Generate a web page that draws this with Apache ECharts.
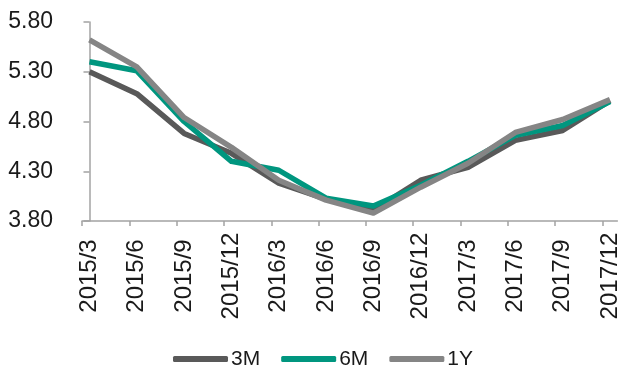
<!DOCTYPE html>
<html>
<head>
<meta charset="utf-8">
<title>3M / 6M / 1Y</title>
<script src="https://cdn.jsdelivr.net/npm/echarts@6/dist/echarts.min.js"></script>
<style>
  html, body { margin: 0; padding: 0; background: #ffffff; }
  #chart { width: 622px; height: 372px; }
</style>
</head>
<body>
<div id="chart"></div>
<script>
// Quarter-end categories
const categories = ['2015/3', '2015/6', '2015/9', '2015/12', '2016/3', '2016/6',
                    '2016/9', '2016/12', '2017/3', '2017/6', '2017/9', '2017/12'];

// Rates by tenor (%)
const series3M = [5.30, 5.08, 4.68, 4.48, 4.18, 4.02, 3.91, 4.21, 4.34, 4.61, 4.71, 5.01];
const series6M = [5.40, 5.31, 4.80, 4.40, 4.31, 4.03, 3.95, 4.16, 4.40, 4.66, 4.76, 5.00];
const series1Y = [5.62, 5.35, 4.84, 4.54, 4.21, 4.01, 3.88, 4.14, 4.38, 4.69, 4.82, 5.02];

// Value-axis tick labels
const yTicks = { min: 3.80, max: 5.80, step: 0.50 };

const seriesNames = ['3M', '6M', '1Y'];
const seriesValues = [series3M, series6M, series1Y];
const seriesColors = ['#595959', '#00967f', '#858585'];

// Category ticks sit a little left of each data point (Office-style axis)
const TICK_SHIFT = -0.158;
const X_MIN = TICK_SHIFT;
const X_MAX = TICK_SHIFT + 11.314;

const axisGray = '#a3a3a3';
const textColor = '#1a1a1a';
const fontFamily = '"Liberation Sans", Arial, sans-serif';

const chart = echarts.init(document.getElementById('chart'), null, { renderer: 'canvas' });

chart.setOption({
  animation: false,
  backgroundColor: '#ffffff',
  grid: { left: 82, right: 2, top: 22, bottom: 151, containLabel: false },
  legend: {
    data: seriesNames,
    left: 168,
    top: 342,
    icon: 'roundRect',
    itemWidth: 55,
    itemHeight: 6,
    itemGap: 21,
    textStyle: { fontSize: 21, color: textColor, fontFamily: fontFamily, lineHeight: 24, padding: [0, 0, 0, -2] }
  },
  xAxis: {
    type: 'value',
    min: X_MIN,
    max: X_MAX,
    splitLine: { show: false },
    axisLine: { show: true, lineStyle: { color: axisGray, width: 1.5 } },
    axisTick: {
      show: true,
      length: 5,
      lineStyle: { color: axisGray, width: 1.5 },
      customValues: categories.map((_, i) => i + TICK_SHIFT)
    },
    axisLabel: {
      show: true,
      rotate: 90,
      align: 'center',
      verticalAlign: 'middle',
      margin: 55,
      fontSize: 24,
      color: textColor,
      fontFamily: fontFamily,
      customValues: categories.map((_, i) => i),
      formatter: (v) => categories[Math.round(v)]
    }
  },
  yAxis: {
    type: 'value',
    min: yTicks.min,
    max: yTicks.max,
    interval: yTicks.step,
    splitLine: { show: false },
    axisLine: { show: true, lineStyle: { color: axisGray, width: 1.5 } },
    axisTick: { show: true, inside: false, length: 6, lineStyle: { color: axisGray, width: 1.5 } },
    axisLabel: {
      margin: 29,
      fontSize: 23,
      color: textColor,
      fontFamily: fontFamily,
      formatter: (v) => v.toFixed(2)
    }
  },
  series: seriesNames.map((name, k) => ({
    name: name,
    type: 'line',
    data: seriesValues[k].map((v, i) => [i, v]),
    symbol: 'none',
    smooth: false,
    color: seriesColors[k],
    itemStyle: { color: seriesColors[k] },
    lineStyle: { color: seriesColors[k], width: 5.5, cap: 'butt', join: 'round' },
    z: 2 + k
  }))
});
</script>
</body>
</html>
